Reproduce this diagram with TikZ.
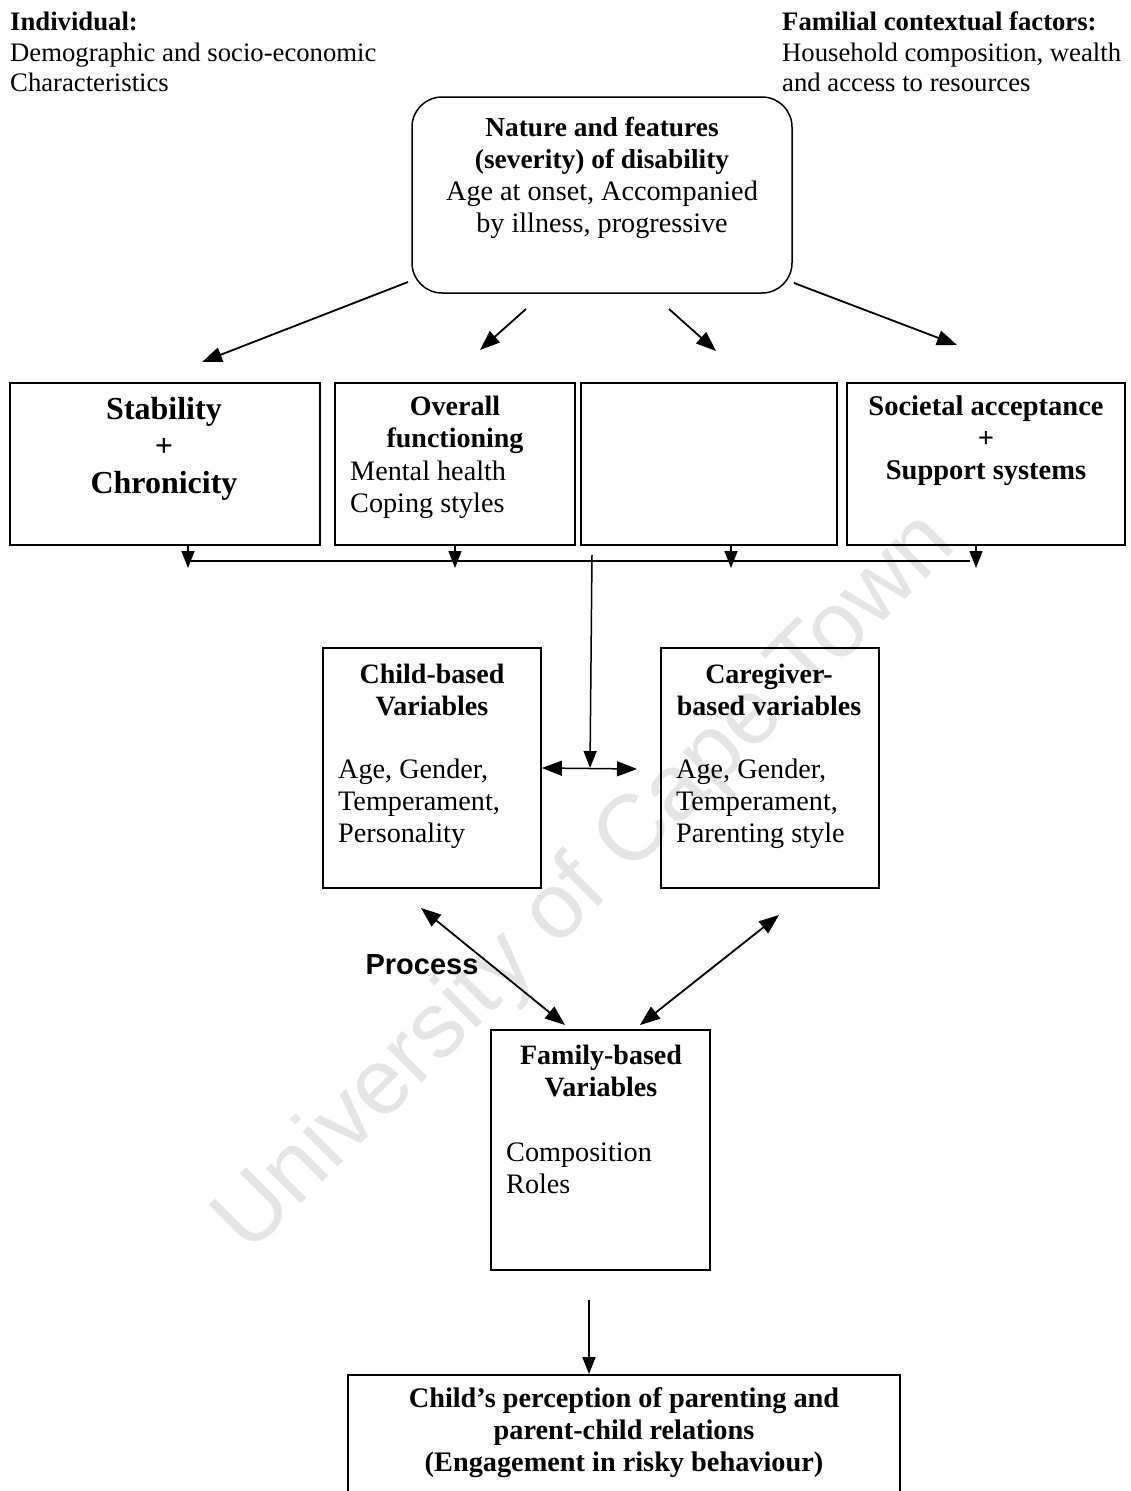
\documentclass[tikz,border=0pt]{standalone}
\usepackage{fontspec}
\setmainfont{Liberation Serif}
\newfontfamily\arialf{Liberation Sans}
\usetikzlibrary{arrows.meta}
\tikzset{
  boxst/.style={draw, line width=1.8pt, rectangle, inner sep=0pt},
  txt/.style={inner sep=0pt, font=\fontsize{28.2}{32}\selectfont},
  btxt/.style={inner sep=0pt, align=center, font=\fontsize{28}{32}\selectfont\bfseries},
  ltxt/.style={inner sep=0pt, align=left, anchor=west, font=\fontsize{28.2}{32}\selectfont},
  corner/.style={inner sep=0pt, align=left, anchor=west, font=\fontsize{26.7}{30.5}\selectfont},
  arr/.style={line width=1.8pt, -{Triangle[length=20pt,width=15pt]}},
  darr/.style={line width=1.8pt, {Triangle[length=20pt,width=15pt]}-{Triangle[length=20pt,width=15pt]}},
  sarr/.style={line width=1.5pt, -{Triangle[length=17pt,width=13pt]}},
  plain/.style={line width=1.5pt}
}
\begin{document}
\begin{tikzpicture}[x=1pt,y=-1pt]
\useasboundingbox (0,0) rectangle (1130,1491);
\fill[white] (0,0) rectangle (1130,1491);
% watermark
\node[inner sep=0pt, rotate=45, text=black!10, font=\fontsize{93}{100}\selectfont\arialf] (wm) at (587,884) {University of Cape Town};

% corner texts
\node[corner] (indiv) at (10,52) {\textbf{Individual:}\\Demographic and socio-economic\\Characteristics};
\node[corner] (famil) at (782,52) {\textbf{Familial contextual factors:}\\Household composition, wealth\\and access to resources};

% top box
\draw[line width=1.5pt, rounded corners=30pt] (412,97) rectangle (792,293);
\node[inner sep=0pt, align=center, font=\fontsize{28.2}{32}\selectfont] (toptxt) at (602,178) {{\fontsize{27.4}{32}\selectfont\bfseries Nature and features}\\{\fontsize{27.4}{32}\selectfont\bfseries (severity) of disability}\\Age at onset, Accompanied\\by illness, progressive};

% row boxes
\node[boxst, minimum width=310, minimum height=162] (b1) at (165,464) {};
\node[boxst, minimum width=240, minimum height=162] (b2) at (455,464) {};
\node[boxst, minimum width=256, minimum height=162] (b3) at (709,464) {};
\node[boxst, minimum width=278, minimum height=162] (b4) at (986,464) {};

\node[inner sep=0pt, align=center, font=\fontsize{32}{37}\selectfont\bfseries] (b1t) at (164,449) {Stability\\+\\Chronicity};
\node[btxt] (b2t) at (455,425) {Overall\\functioning};
\node[ltxt] (b2l) at (350,490) {Mental health\\Coping styles};
\node[inner sep=0pt, align=center, font=\fontsize{28.5}{32}\selectfont\bfseries] (b4t) at (986,441) {Societal acceptance\\+\\Support systems};

% arrows from top box
\coordinate (a1s) at (408,282); \coordinate (a1e) at (202,362);
\coordinate (a2s) at (526,309); \coordinate (a2e) at (480,350);
\coordinate (a3s) at (669,309); \coordinate (a3e) at (716,351);
\coordinate (a4s) at (794,283); \coordinate (a4e) at (957,345);
\draw[arr] (a1s) -- (a1e);
\draw[arr] (a2s) -- (a2e);
\draw[arr] (a3s) -- (a3e);
\draw[arr] (a4s) -- (a4e);

% small down arrows and collector line
\coordinate (d1) at (188,568); \coordinate (d2) at (455,568);
\coordinate (d3) at (731,568); \coordinate (d4) at (976,568);
\draw[sarr] (b1.south -| d1) -- (d1);
\draw[sarr] (b2.south -| d2) -- (d2);
\draw[sarr] (b3.south -| d3) -- (d3);
\draw[sarr] (b4.south -| d4) -- (d4);
\coordinate (hl) at (188,561); \coordinate (hr) at (970,561);
\draw[plain] (hl) -- (hr);
\coordinate (vtop) at (592,555); \coordinate (vbot) at (590,768);
\draw[sarr] (vtop) -- (vbot);

% middle boxes
\node[boxst, minimum width=218, minimum height=240] (cb) at (432,768) {};
\node[boxst, minimum width=218, minimum height=240] (gb) at (770,768) {};
\node[btxt] (cbt) at (432,690) {Child-based\\Variables};
\node[ltxt] (cbl) at (338,804) {Age, Gender,\\Temperament,\\Personality};
\node[btxt] (gbt) at (769,690) {Caregiver-\\based variables};
\node[ltxt] (gbl) at (676,804) {Age, Gender,\\Temperament,\\Parenting style};
\draw[darr, line width=1.5pt] (cb.east |- vbot) -- (637,769);

% family box
\node[boxst, minimum width=219, minimum height=240] (fb) at (600.5,1150) {};
\node[btxt] (fbt) at (601,1071) {Family-based\\Variables};
\node[ltxt] (fbl) at (506,1168) {Composition\\Roles};

\coordinate (l1) at (421,908); \coordinate (l2) at (565,1025);
\coordinate (r1) at (779,915); \coordinate (r2) at (640,1025);
\draw[darr] (l1) -- (l2);
\draw[darr] (r1) -- (r2);
\node[inner sep=0pt, font=\fontsize{29}{32}\selectfont\arialf\bfseries] (proc) at (422,965) {Process};

% bottom
\coordinate (bs) at (589,1300);
\draw[line width=1.8pt] (348,1500) -- (348,1375) -- (900,1375) -- (900,1500);
\coordinate (be) at (589,1374);
\draw[sarr, line width=1.8pt] (bs) -- (be);
\node[inner sep=0pt, align=center, font=\fontsize{28.3}{32}\selectfont\bfseries] (bott) at (624,1433) {Child’s perception of parenting and\\parent-child relations\\(Engagement in risky behaviour)};
\end{tikzpicture}
\end{document}
